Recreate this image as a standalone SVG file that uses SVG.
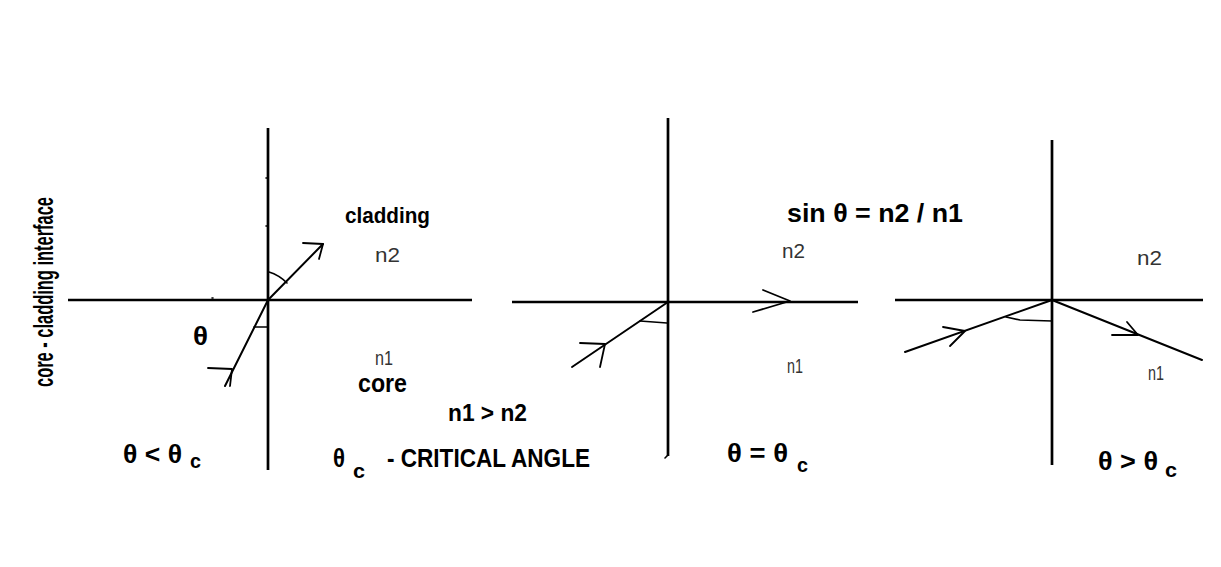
<svg xmlns="http://www.w3.org/2000/svg" width="1221" height="567" viewBox="0 0 1221 567">
<style>
.axis{stroke:#000;stroke-width:2.7;fill:none;stroke-linecap:butt}
.ray{stroke:#000;stroke-width:2;fill:none;stroke-linecap:round;stroke-linejoin:round}
.arm{stroke:#000;stroke-width:1.8;fill:none;stroke-linecap:round;stroke-linejoin:round}
.mark{stroke:#000;stroke-width:1.6;fill:none;stroke-linecap:round}
.b{font-family:"Liberation Sans",Arial,sans-serif;font-weight:bold;fill:#000}
.t{font-family:"Liberation Sans",Arial,sans-serif;font-weight:normal;fill:#333}
</style>
<rect width="1221" height="567" fill="#fff"/>

<g id="panel1">
  <line class="axis" x1="268" y1="128" x2="268" y2="470"/>
  <line class="axis" x1="68" y1="300" x2="472" y2="300"/>
  <line class="mark" x1="266" y1="178" x2="267" y2="178"/>
  <line class="mark" x1="266" y1="226" x2="267" y2="226"/>
  <line class="mark" x1="212" y1="298" x2="213" y2="298"/>
  <text class="b" x="345" y="223" font-size="22" textLength="85" lengthAdjust="spacingAndGlyphs">cladding</text>
  <text class="t" x="375" y="262" font-size="21" textLength="25" lengthAdjust="spacingAndGlyphs">n2</text>
  <text class="t" x="375" y="365" font-size="20" textLength="18" lengthAdjust="spacingAndGlyphs">n1</text>
  <text class="b" x="358" y="392" font-size="25" textLength="49" lengthAdjust="spacingAndGlyphs">core</text>
  <text class="b" x="193" y="345" font-size="26" textLength="15" lengthAdjust="spacingAndGlyphs">θ</text>
  <text class="b" x="123" y="463" font-size="26" textLength="59" lengthAdjust="spacingAndGlyphs">θ &lt; θ</text>
  <text class="b" x="190" y="468" font-size="21" textLength="11" lengthAdjust="spacingAndGlyphs">c</text>
</g>

<g id="panel2">
  <line class="axis" x1="668" y1="118" x2="668" y2="456"/>
  <path class="mark" d="M668,455 L665,458"/>
  <line class="axis" x1="512" y1="302" x2="858" y2="302"/>
  <text class="t" x="782" y="258" font-size="21" textLength="23" lengthAdjust="spacingAndGlyphs">n2</text>
  <text class="t" x="787" y="373" font-size="21" textLength="16" lengthAdjust="spacingAndGlyphs">n1</text>
  <text class="b" x="727" y="462" font-size="26" textLength="61" lengthAdjust="spacingAndGlyphs">θ = θ</text>
  <text class="b" x="797" y="472" font-size="21" textLength="11" lengthAdjust="spacingAndGlyphs">c</text>
</g>

<g id="panel3">
  <line class="axis" x1="1052" y1="140" x2="1052" y2="465"/>
  <line class="axis" x1="895" y1="300" x2="1203" y2="300"/>
  <text class="t" x="1137" y="265" font-size="21" textLength="25" lengthAdjust="spacingAndGlyphs">n2</text>
  <text class="t" x="1148" y="380" font-size="21" textLength="16" lengthAdjust="spacingAndGlyphs">n1</text>
  <text class="b" x="1098" y="470" font-size="26" textLength="60" lengthAdjust="spacingAndGlyphs">θ &gt; θ</text>
  <text class="b" x="1165" y="477" font-size="21" textLength="12" lengthAdjust="spacingAndGlyphs">c</text>
</g>

<g id="labels">
  <text class="b" transform="translate(53,387) rotate(-90)" font-size="27" textLength="190" lengthAdjust="spacingAndGlyphs">core - cladding interface</text>
  <text class="b" x="448" y="421" font-size="24" textLength="79" lengthAdjust="spacingAndGlyphs">n1 &gt; n2</text>
  <text class="b" x="333" y="467" font-size="26" textLength="12" lengthAdjust="spacingAndGlyphs">θ</text>
  <text class="b" x="353" y="478" font-size="21" textLength="12" lengthAdjust="spacingAndGlyphs">c</text>
  <text class="b" x="387" y="467" font-size="26" textLength="203" lengthAdjust="spacingAndGlyphs">- CRITICAL ANGLE</text>
  <text class="b" x="787" y="222" font-size="26" textLength="176" lengthAdjust="spacingAndGlyphs">sin θ = n2 / n1</text>
</g>

<g id="connectors">
  <!-- panel 1 -->
  <polyline class="ray" points="225,386 268,300 323,244"/>
  <polyline class="arm" points="303,243 323,244 319,259"/>
  <polyline class="arm" points="208,368 232,369 230,386"/>
  <path class="mark" d="M269,272 Q279,275 287,283"/>
  <line class="mark" x1="254" y1="327" x2="268" y2="327"/>
  <!-- panel 2 -->
  <line class="ray" x1="572" y1="367" x2="668" y2="302"/>
  <polyline class="arm" points="580,343 605,344 600,367"/>
  <polyline class="arm" points="763,290 790,301 753,312"/>
  <line class="mark" x1="640" y1="321" x2="667" y2="323"/>
  <!-- panel 3 -->
  <polyline class="ray" points="905,352 1052,300 1202,360"/>
  <polyline class="arm" points="943,327 965,331 950,346"/>
  <polyline class="arm" points="1127,322 1138,335 1112,335"/>
  <polyline class="mark" points="1006,317 1020,320 1052,321"/>
</g>
</svg>
